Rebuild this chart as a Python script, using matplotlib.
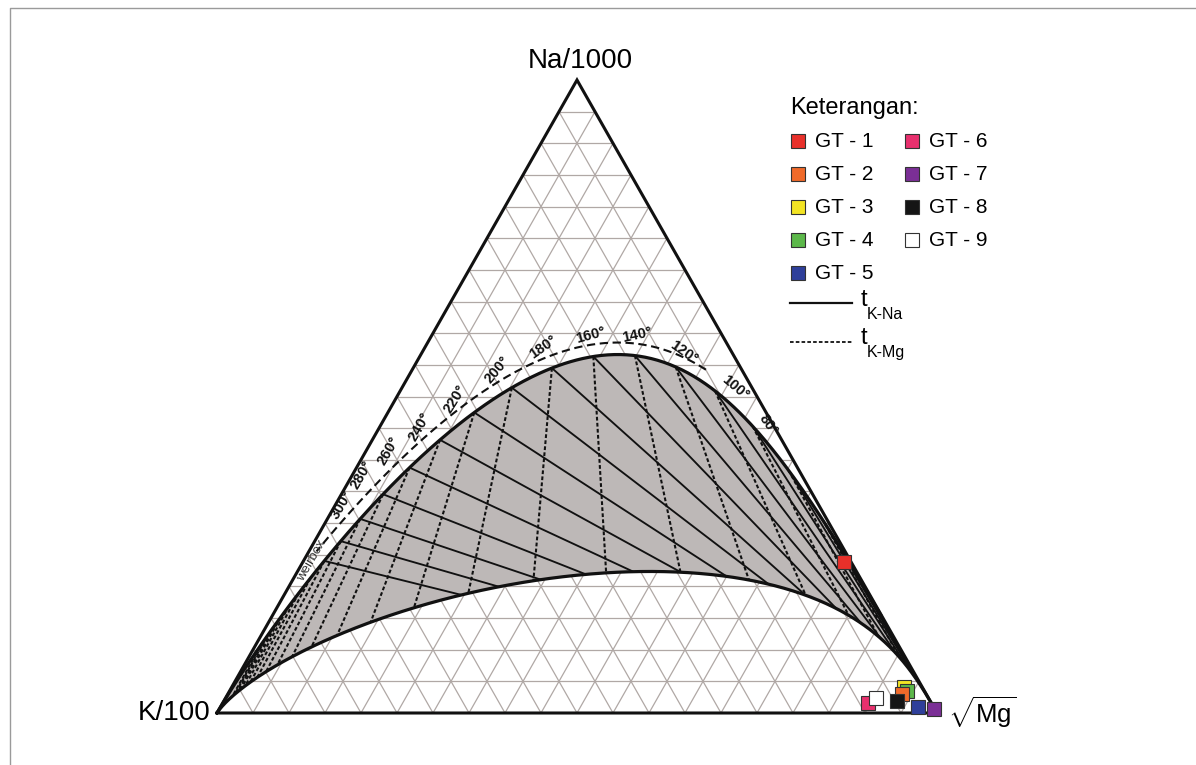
import numpy as np
import matplotlib
matplotlib.use("Agg")
import matplotlib.pyplot as plt
from matplotlib.patches import Polygon

plt.rcParams['font.family'] = ['Liberation Sans', 'DejaVu Sans']
plt.rcParams['mathtext.fontset'] = 'custom'
plt.rcParams['mathtext.rm'] = 'Liberation Sans'

# sample composition, % of (Na/1000 + K/100 + sqrt(Mg))
samples = ["GT - 1", "GT - 2", "GT - 3", "GT - 4", "GT - 5", "GT - 6", "GT - 7", "GT - 8", "GT - 9"]
na_pct = [23.9, 3.0, 4.1, 3.4, 1.0, 1.6, 0.6, 1.9, 2.3]
k_pct = [1.0, 3.3, 2.6, 2.5, 2.2, 8.7, 0.1, 4.5, 7.3]
mg_pct = [75.1, 93.7, 93.3, 94.1, 96.8, 89.6, 99.3, 93.5, 90.4]
colors = ['#e8302a', '#f06a2a', '#f3e424', '#5cb84a', '#2e3f9a',
          '#e8306e', '#7b2f96', '#151515', '#ffffff']
draw_order = [0, 2, 3, 1, 5, 8, 7, 4, 6]

# Giggenbach (1988) geothermometers
kna_a, kna_b = 1.75, 1390.0    # log(K/Na) = 1.75 - 1390/T
kmg_a, kmg_b = 14.0, 4410.0    # log(K2/Mg) = 14.0 - 4410/T
immature_f = 11.0              # sqrt(Mg) factor of the immature water line

kna_iso_t = [20, 40, 60, 80, 100, 120, 140, 160, 180, 200, 220, 240, 260, 280, 300, 320, 340]
kmg_iso_t = kna_iso_t + [360, 380, 400, 420, 440, 460, 480]
label_t = [80, 100, 120, 140, 160, 180, 200, 220, 240, 260, 280, 300]
label_rot = [-55, -40, -35, 12, 15, 35, 50, 58, 60, 60, 60, 60]
# label shift from the equilibrium point, pixels (right, down)
label_dx = [15, 20, 8, 2, -3, -9, -15, -19, -20, -21, -21, -18]
label_dy = [-1, -3, -15, -21, -21, -21, -18, -14, -13, -17, -19, -14]

W, H = 720.0, 633.0   # triangle size in pixels


def eq_point(t, f=1.0):
    tk = np.asarray(t, float) + 273.15
    kna = 10 ** (kna_a - kna_b / tk)
    kmg = 10 ** (kmg_a - kmg_b / tk)
    na = np.ones_like(tk)
    k = 10 * kna
    mg = f * 1000 * kna / np.sqrt(kmg)
    s = na + k + mg
    return na / s, k / s, mg / s


def xy(na, k, mg):
    na = np.asarray(na, float)
    mg = np.asarray(mg, float)
    return mg + na / 2, na


def t_kmg_lower(t):
    tk = np.asarray(t, float) + 273.15
    return 1.0 / (1.0 / tk - 2 * np.log10(immature_f) / kmg_b) - 273.15


fig = plt.figure(figsize=(11.96, 7.65), dpi=100)
ax = fig.add_axes([0, 0, 1, 1])
ax.set_xlim(-217 / W, (1196 - 217) / W)
ax.set_ylim((713 - 765) / H, 713 / H)
ax.axis('off')

# grid
grid_kw = dict(color='#b0a8a5', lw=0.9, zorder=1)
for i in range(1, 20):
    v = i / 20
    ax.plot([v / 2, 1 - v / 2], [v, v], **grid_kw)
    ax.plot([1 - v, (1 - v) / 2], [0, 1 - v], **grid_kw)
    ax.plot([v, v + (1 - v) / 2], [0, 1 - v], **grid_kw)

# full equilibrium and immature lines
t_curve = np.concatenate([np.linspace(0, 400, 401), np.geomspace(401, 30000, 300)])
ux, uy = xy(*eq_point(t_curve))
lx, ly = xy(*eq_point(t_curve, immature_f))
poly = np.column_stack([np.concatenate([ux, lx[::-1]]), np.concatenate([uy, ly[::-1]])])
ax.add_patch(Polygon(poly, closed=True, fc='#bdb8b7', ec='none', zorder=2))

# K-Na isotherms
for t in kna_iso_t:
    x0, y0 = xy(*eq_point(t))
    x1, y1 = xy(*eq_point(t, immature_f))
    ax.plot([x0, x1], [y0, y1], color='#111111', lw=1.35, zorder=3, solid_capstyle='butt')

# K-Mg isotherms
for t in kmg_iso_t:
    x0, y0 = xy(*eq_point(t))
    x1, y1 = xy(*eq_point(t_kmg_lower(t), immature_f))
    ax.plot([x0, x1], [y0, y1], color='#111111', lw=1.5, ls=(0, (1.8, 1.1)), zorder=3)

ax.plot(ux, uy, color='#111111', lw=2.3, zorder=4)
ax.plot(lx, ly, color='#111111', lw=2.3, zorder=4)

# triangle
ax.plot([0, 1, 0.5, 0], [0, 0, 1, 0], color='#111111', lw=2.2, zorder=5,
        solid_joinstyle='miter')


def offset_curve(t, d):
    x, y = xy(*eq_point(t))
    px, py = x * W, y * H
    tx, ty = np.gradient(px), np.gradient(py)
    n = np.hypot(tx, ty)
    nx, ny = ty / n, -tx / n
    return (px + d * nx) / W, (py + d * ny) / H


# temperature guide line and labels
t_guide = np.linspace(108, 338, 300)
gx, gy = offset_curve(t_guide, 12)
ax.plot(gx, gy, color='#111111', lw=1.5, ls=(0, (4, 2.2)), zorder=4)
lab_family = ['Liberation Sans Narrow', 'Liberation Sans', 'DejaVu Sans']
for t, r, dx, dy in zip(label_t, label_rot, label_dx, label_dy):
    x0, y0 = xy(*eq_point(t))
    ax.text(x0 + dx / W, y0 - dy / H, f"{t}°", rotation=r, rotation_mode='anchor',
            ha='center', va='center', fontsize=10.5, fontweight='bold',
            family=lab_family, color='#111111', zorder=6)
x0, y0 = xy(*eq_point(360))
ax.text(x0 + 1 / W, y0 + 17 / H, "weirbox", rotation=60, rotation_mode='anchor',
        ha='center', va='center', fontsize=9.5, color='#333333', zorder=6)

# samples
sx, sy = xy(np.array(na_pct) / 100, np.array(k_pct) / 100, np.array(mg_pct) / 100)
for j, i in enumerate(draw_order):
    ax.plot(sx[i], sy[i], marker='s', ms=9.4, mfc=colors[i], mec='#333333',
            mew=0.8, ls='none', zorder=7 + j * 0.01, clip_on=False)

# overlay in pixels for labels and legend
ov = fig.add_axes([0, 0, 1, 1])
ov.set_xlim(0, 1196)
ov.set_ylim(765, 0)
ov.axis('off')
ov.patch.set_alpha(0)
ov.plot([10, 10, 1196], [765, 8, 8], color='#9a9a9a', lw=1)

ov.text(580, 61, "Na/1000", ha='center', va='center', fontsize=20)
ov.text(210, 713, "K/100", ha='right', va='center', fontsize=20)
ov.text(948, 712, r"$\sqrt{\mathrm{Mg}}$", ha='left', va='center', fontsize=18.5)

ov.text(790, 108, "Keterangan:", ha='left', va='center', fontsize=17)
rows = [141, 174, 207, 240, 273]
for i, name in enumerate(samples):
    col, row = divmod(i, 5)
    mx = 798 if col == 0 else 912
    ov.plot(mx, rows[row], marker='s', ms=9.4, mfc=colors[i], mec='#333333', mew=0.8)
    ov.text(mx + 17, rows[row], name, ha='left', va='center', fontsize=15)

ov.plot([790, 852], [303, 303], color='#111111', lw=1.6)
ov.plot([790, 852], [342, 342], color='#111111', lw=1.3, ls=(0, (2, 1.2)))
ov.text(861, 300, "t", ha='left', va='center', fontsize=17)
ov.text(867, 314, "K-Na", ha='left', va='center', fontsize=11.5)
ov.text(861, 338, "t", ha='left', va='center', fontsize=17)
ov.text(867, 352, "K-Mg", ha='left', va='center', fontsize=11.5)

fig.savefig("out.png", dpi=100)
